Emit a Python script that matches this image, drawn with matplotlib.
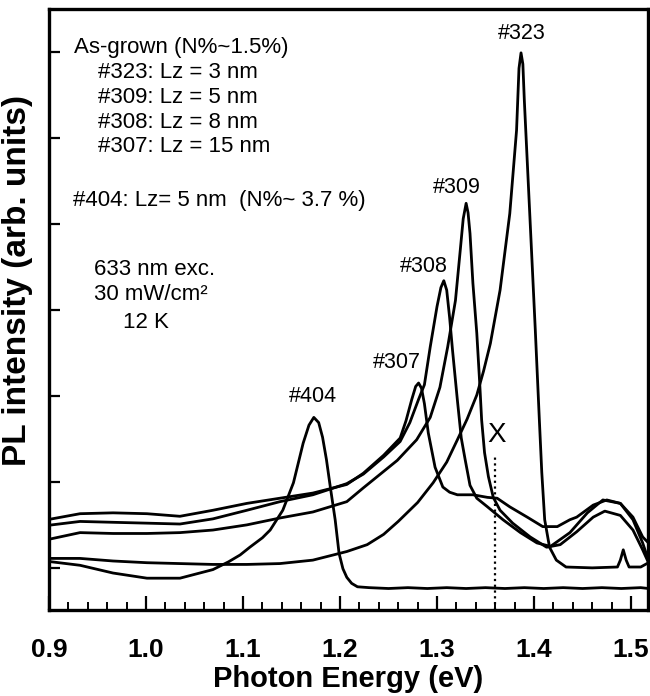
import matplotlib
matplotlib.use("Agg")
import matplotlib.pyplot as plt
from matplotlib import font_manager
from matplotlib.ticker import MultipleLocator, FormatStrFormatter

plt.rcParams['font.family'] = ['Liberation Sans', 'DejaVu Sans']

# the bold axis texts look condensed in the original, use the narrow face if there is one
installed = {f.name for f in font_manager.fontManager.ttflist}
has_narrow = 'Liberation Sans Narrow' in installed
axis_family = ['Liberation Sans Narrow', 'Liberation Sans'] if has_narrow else ['Liberation Sans']
tick_size = 23 if has_narrow else 19
xlab_size = 25 if has_narrow else 21

# PL spectra: photon energy (eV) vs intensity (arb. units)
e307 = [0.903, 0.932, 0.966, 1.001, 1.035, 1.069, 1.104, 1.138, 1.172, 1.207, 1.224, 1.245,
        1.262, 1.268, 1.274, 1.278, 1.281, 1.284, 1.287, 1.291, 1.298, 1.306, 1.313, 1.321,
        1.337, 1.352, 1.362, 1.375, 1.393, 1.409, 1.424, 1.437, 1.444, 1.461, 1.475, 1.489,
        1.502, 1.512, 1.518]
i307 = [1.06, 1.12, 1.13, 1.12, 1.09, 1.16, 1.24, 1.30, 1.36, 1.46, 1.59, 1.80,
        2.00, 2.20, 2.45, 2.60, 2.64, 2.58, 2.40, 2.06, 1.66, 1.43, 1.37, 1.34,
        1.34, 1.31, 1.30, 1.20, 1.08, 0.97, 0.97, 1.05, 1.08, 1.22, 1.28, 1.24,
        1.08, 0.85, 0.78]

e308 = [0.903, 0.932, 0.966, 1.001, 1.035, 1.069, 1.104, 1.138, 1.172, 1.207, 1.224, 1.245,
        1.262, 1.272, 1.281, 1.287, 1.293, 1.300, 1.304, 1.307, 1.310, 1.313, 1.316, 1.321,
        1.325, 1.329, 1.334, 1.341, 1.352, 1.368, 1.386, 1.403, 1.417, 1.437, 1.455, 1.471,
        1.489, 1.502, 1.512, 1.518]
i308 = [0.99, 1.03, 1.02, 1.01, 1.00, 1.06, 1.16, 1.26, 1.34, 1.47, 1.58, 1.78,
        1.96, 2.18, 2.45, 2.62, 3.06, 3.53, 3.75, 3.83, 3.72, 3.40, 3.02, 2.44,
        2.00, 1.75, 1.45, 1.30, 1.20, 1.05, 0.90, 0.78, 0.74, 0.90, 1.13, 1.28,
        1.24, 1.05, 0.78, 0.58]

e309 = [0.903, 0.932, 0.966, 1.001, 1.035, 1.069, 1.104, 1.138, 1.172, 1.207, 1.224, 1.259,
        1.279, 1.293, 1.303, 1.311, 1.319, 1.324, 1.327, 1.330, 1.332, 1.334, 1.337, 1.341,
        1.344, 1.346, 1.349, 1.353, 1.358, 1.365, 1.378, 1.396, 1.413, 1.427, 1.444, 1.461,
        1.473, 1.489, 1.502, 1.512, 1.518]
i309 = [0.83, 0.90, 0.89, 0.89, 0.90, 0.93, 0.99, 1.07, 1.14, 1.26, 1.42, 1.74,
        1.98, 2.24, 2.59, 3.06, 3.60, 4.19, 4.55, 4.73, 4.62, 4.38, 3.80, 3.22,
        2.64, 2.21, 1.83, 1.55, 1.31, 1.16, 1.01, 0.85, 0.73, 0.76, 0.91, 1.08,
        1.15, 1.10, 0.93, 0.70, 0.55]

e323 = [0.903, 0.932, 0.966, 1.001, 1.035, 1.069, 1.104, 1.138, 1.172, 1.207, 1.228, 1.245,
        1.260, 1.280, 1.296, 1.310, 1.321, 1.331, 1.341, 1.348, 1.355, 1.365, 1.375, 1.382,
        1.3845, 1.3866, 1.3885, 1.390, 1.3964, 1.4013, 1.4055, 1.408, 1.411, 1.416, 1.423,
        1.433, 1.46, 1.486, 1.489, 1.492, 1.495, 1.498, 1.51, 1.518]
i323 = [0.60, 0.60, 0.57, 0.55, 0.54, 0.53, 0.53, 0.54, 0.58, 0.68, 0.76, 0.88,
        1.03, 1.25, 1.48, 1.72, 1.98, 2.22, 2.50, 2.78, 3.10, 3.72, 4.61, 5.58,
        6.30, 6.48, 6.35, 5.93, 4.42, 3.26, 2.21, 1.60, 1.05, 0.73, 0.58,
        0.50, 0.49, 0.50, 0.58, 0.70, 0.58, 0.50, 0.50, 0.55]

e404 = [0.903, 0.932, 0.966, 1.001, 1.035, 1.069, 1.085, 1.097, 1.107, 1.120, 1.128, 1.141,
        1.152, 1.162, 1.168, 1.173, 1.178, 1.182, 1.186, 1.190, 1.195, 1.199, 1.203, 1.207,
        1.212, 1.218, 1.23, 1.25, 1.27, 1.29, 1.31, 1.33, 1.35, 1.37, 1.39, 1.41,
        1.43, 1.45, 1.47, 1.49, 1.51, 1.518]
i404 = [0.56, 0.52, 0.43, 0.37, 0.37, 0.47, 0.56, 0.64, 0.73, 0.84, 0.93, 1.16,
        1.48, 1.94, 2.15, 2.24, 2.18, 2.01, 1.75, 1.43, 1.05, 0.66, 0.48, 0.38,
        0.31, 0.27, 0.26, 0.25, 0.26, 0.25, 0.26, 0.25, 0.26, 0.25, 0.26, 0.25,
        0.26, 0.25, 0.26, 0.25, 0.26, 0.25]

spectra = [(e307, i307), (e308, i308), (e309, i309), (e323, i323), (e404, i404)]

peak_names = ['#323', '#309', '#308', '#307', '#404']
peak_pos = [(1.3876, 6.71), (1.3206, 4.91), (1.2866, 4.00), (1.2588, 2.88), (1.1722, 2.48)]

x_mark = 1.360
x_mark_top = 1.82

fig = plt.figure(figsize=(6.5, 6.96), dpi=100)
ax = fig.add_axes([49 / 650, 86 / 696, 599 / 650, 601 / 696])

for e, i in spectra:
    ax.plot(e, i, color='black', lw=2.0, solid_joinstyle='round')

ax.plot([x_mark, x_mark], [0, x_mark_top], color='black', lw=1.6, linestyle=(0, (1, 1.6)))
ax.text(x_mark + 0.0015, 1.88, 'X', fontsize=20, ha='center', va='bottom')

for name, (px, py) in zip(peak_names, peak_pos):
    ax.text(px, py, name, fontsize=15.5, ha='center', va='center')

info = [
    (0.926, 6.545, 'As-grown (N%~1.5%)'),
    (0.951, 6.255, '#323: Lz = 3 nm'),
    (0.951, 5.965, '#309: Lz = 5 nm'),
    (0.951, 5.675, '#308: Lz = 8 nm'),
    (0.951, 5.385, '#307: Lz = 15 nm'),
    (0.925, 4.765, '#404: Lz= 5 nm  (N%~ 3.7 %)'),
    (0.946, 3.965, '633 nm exc.'),
    (0.946, 3.675, '30 mW/cm\u00b2'),
    (0.976, 3.345, '12 K'),
]
for tx, ty, s in info:
    ax.text(tx, ty, s, fontsize=16, ha='left', va='center')

ax.set_xlim(0.9, 1.5175)
ax.set_ylim(0, 6.99)

ax.xaxis.set_major_locator(MultipleLocator(0.1))
ax.xaxis.set_minor_locator(MultipleLocator(0.02))
ax.xaxis.set_major_formatter(FormatStrFormatter('%.1f'))
ax.set_yticks([0.49, 1.49, 2.49, 3.49, 4.49, 5.49, 6.49])
ax.set_yticklabels([])

ax.tick_params(axis='x', which='major', direction='in', length=10, width=1.6,
               top=False, labelsize=tick_size, pad=20)
ax.tick_params(axis='x', which='minor', direction='in', length=6, width=1.4, top=False)
ax.tick_params(axis='y', which='major', direction='in', length=8, width=1.6, right=False)
for lab in ax.get_xticklabels():
    lab.set_fontweight('bold')
    lab.set_family(axis_family)

for sp in ax.spines.values():
    sp.set_linewidth(2.4)

ax.set_xlabel('Photon Energy (eV)', fontsize=xlab_size, fontweight='bold', family=axis_family)
ax.xaxis.set_label_coords(0.5, -0.091)
ax.set_ylabel('PL intensity (arb. units)', fontsize=24, fontweight='bold')
ax.yaxis.set_label_coords(-0.027, 0.549)

fig.savefig('out.png', dpi=100)
